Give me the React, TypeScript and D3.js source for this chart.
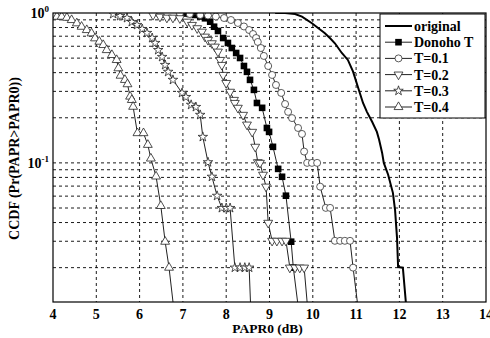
import React, { useEffect, useRef } from "react";
import * as d3 from "d3";

// [PAPR0 (dB), CCDF]
const original: [number, number][] = [
  [9.13, 1.0], [9.36, 1.0], [9.59, 0.985], [9.75, 0.945], [9.98, 0.854], [10.28, 0.732],
  [10.4, 0.678], [10.51, 0.628], [10.67, 0.541], [10.81, 0.486], [10.93, 0.406],
  [11.04, 0.322], [11.16, 0.251], [11.25, 0.219], [11.37, 0.188], [11.48, 0.161],
  [11.53, 0.143], [11.6, 0.117], [11.64, 0.1], [11.74, 0.0833], [11.85, 0.0631],
  [11.9, 0.0484], [11.945, 0.0316], [11.97, 0.0202], [12.08, 0.02], [12.17, 0.01],
];
const donohoT: [number, number][] = [
  [7.05, 0.992], [7.16, 0.985], [7.28, 0.97], [7.4, 0.948], [7.51, 0.922], [7.63, 0.875],
  [7.72, 0.81], [7.81, 0.759], [7.93, 0.681], [8.04, 0.631], [8.13, 0.584], [8.23, 0.541],
  [8.32, 0.501], [8.41, 0.443], [8.48, 0.405], [8.55, 0.358], [8.64, 0.307], [8.71, 0.251],
  [8.83, 0.233], [8.94, 0.171], [8.99, 0.161], [9.08, 0.128], [9.2, 0.0912], [9.29, 0.0808],
  [9.38, 0.0604], [9.5, 0.0298], [9.55, 0.02], [9.68, 0.01],
];
const t01: [number, number][] = [
  [6.93, 0.992], [7.16, 0.985], [7.4, 0.97], [7.58, 0.962], [7.76, 0.948], [7.95, 0.926],
  [8.11, 0.898], [8.27, 0.858], [8.41, 0.813], [8.53, 0.77], [8.62, 0.724], [8.69, 0.681],
  [8.73, 0.641], [8.8, 0.584], [8.87, 0.517], [8.97, 0.443], [9.06, 0.386], [9.15, 0.331],
  [9.27, 0.293], [9.36, 0.247], [9.43, 0.219], [9.52, 0.199], [9.66, 0.171], [9.75, 0.156],
  [9.8, 0.119], [9.87, 0.1], [9.98, 0.1], [10.1, 0.1], [10.17, 0.0694], [10.3, 0.0501],
  [10.4, 0.0501], [10.51, 0.0302], [10.63, 0.0302], [10.74, 0.0302], [10.86, 0.0302],
  [10.93, 0.02], [11.06, 0.01],
];
const t02: [number, number][] = [
  [6.31, 0.97], [6.47, 0.945], [6.63, 0.93], [6.77, 0.93], [6.93, 0.922], [7.1, 0.875],
  [7.21, 0.832], [7.33, 0.791], [7.44, 0.75], [7.51, 0.695], [7.58, 0.661], [7.67, 0.628],
  [7.74, 0.596], [7.81, 0.552], [7.86, 0.486], [7.9, 0.45], [7.93, 0.386], [8.0, 0.341],
  [8.09, 0.298], [8.18, 0.263], [8.2, 0.251], [8.27, 0.233], [8.39, 0.209], [8.48, 0.18],
  [8.6, 0.161], [8.67, 0.128], [8.73, 0.101], [8.78, 0.1], [8.85, 0.0833], [8.92, 0.0694],
  [8.97, 0.0398], [9.06, 0.0302], [9.17, 0.0302], [9.29, 0.0302], [9.38, 0.0302],
  [9.47, 0.02], [9.59, 0.02], [9.7, 0.02], [9.8, 0.02], [9.89, 0.01],
];
const t03: [number, number][] = [
  [5.39, 0.985], [5.55, 0.955], [5.71, 0.926], [5.82, 0.871], [5.94, 0.832], [6.06, 0.782],
  [6.17, 0.736], [6.29, 0.681], [6.36, 0.631], [6.43, 0.566], [6.52, 0.509], [6.59, 0.45],
  [6.66, 0.405], [6.77, 0.358], [6.98, 0.293], [7.07, 0.275], [7.19, 0.244], [7.3, 0.236],
  [7.4, 0.209], [7.46, 0.149], [7.58, 0.101], [7.67, 0.0808], [7.79, 0.0603], [7.9, 0.05],
  [8.0, 0.05], [8.09, 0.05], [8.2, 0.02], [8.32, 0.02], [8.43, 0.02], [8.53, 0.02],
  [8.57, 0.01],
];
const t04: [number, number][] = [
  [4.09, 0.945], [4.2, 0.945], [4.32, 0.93], [4.43, 0.898], [4.55, 0.854], [4.66, 0.81],
  [4.78, 0.77], [4.89, 0.732], [4.97, 0.678], [5.07, 0.644], [5.16, 0.612], [5.24, 0.566],
  [5.36, 0.525], [5.47, 0.486], [5.51, 0.428], [5.56, 0.382], [5.66, 0.358], [5.72, 0.335],
  [5.78, 0.277], [5.82, 0.263], [5.85, 0.237], [5.95, 0.158], [6.09, 0.158], [6.19, 0.132],
  [6.26, 0.107], [6.38, 0.0812], [6.49, 0.0516], [6.59, 0.0298], [6.68, 0.02], [6.8, 0.01],
];

const xTicks = [4, 5, 6, 7, 8, 9, 10, 11, 12, 13, 14];
const yGrid = [0.02, 0.03, 0.04, 0.05, 0.06, 0.07, 0.08, 0.09, 0.1, 0.2, 0.3, 0.4, 0.5, 0.6, 0.7, 0.8, 0.9];
const yTickLabels = [{ v: 1, exp: "0" }, { v: 0.1, exp: "-1" }];

const series = [
  { name: "original", data: original, marker: null as string | null },
  { name: "Donoho T", data: donohoT, marker: "square" },
  { name: "T=0.1", data: t01, marker: "circle" },
  { name: "T=0.2", data: t02, marker: "tridown" },
  { name: "T=0.3", data: t03, marker: "star" },
  { name: "T=0.4", data: t04, marker: "triup" },
];

const FONT = "Liberation Serif, Times New Roman, Tinos, serif";

const drawMarker = (g: d3.Selection<SVGGElement, unknown, null, undefined>, kind: string, x: number, y: number) => {
  if (kind === "square") {
    g.append("rect").attr("x", x - 3.3).attr("y", y - 3.3).attr("width", 6.6).attr("height", 6.6)
      .attr("fill", "#000");
    return;
  }
  if (kind === "circle") {
    g.append("circle").attr("cx", x).attr("cy", y).attr("r", 3.5)
      .attr("fill", "#fff").attr("stroke", "#333").attr("stroke-width", 0.8);
    return;
  }
  const sym = kind === "star" ? d3.symbolStar : d3.symbolTriangle;
  const size = kind === "star" ? 28 : 34;
  g.append("path")
    .attr("d", d3.symbol().type(sym).size(size)()!)
    .attr("transform", `translate(${x},${y})${kind === "tridown" ? " rotate(180)" : ""}`)
    .attr("fill", "#fff").attr("stroke", "#222").attr("stroke-width", 0.8);
};

const App: React.FC = () => {
  const svgRef = useRef<SVGSVGElement | null>(null);

  useEffect(() => {
    const svg = d3.select(svgRef.current);
    svg.selectAll("*").remove();

    const m = { top: 13, right: 4, bottom: 36, left: 53 };
    const w = 490;
    const h = 338;

    const x = d3.scaleLinear().domain([4, 14]).range([m.left, w - m.right]);
    const y = d3.scaleLog().domain([0.0118, 1]).range([h - m.bottom, m.top]);

    svg.append("defs").append("clipPath").attr("id", "plotclip")
      .append("rect").attr("x", m.left).attr("y", m.top)
      .attr("width", w - m.left - m.right).attr("height", h - m.top - m.bottom);

    svg.append("rect").attr("x", m.left).attr("y", m.top)
      .attr("width", w - m.left - m.right).attr("height", h - m.top - m.bottom).attr("fill", "#fff");

    // grid
    const grid = svg.append("g").attr("stroke", "#000").attr("stroke-width", 0.9).attr("stroke-dasharray", "3,3");
    xTicks.slice(1, -1).forEach(t => {
      grid.append("line").attr("x1", x(t)).attr("x2", x(t)).attr("y1", m.top).attr("y2", h - m.bottom);
    });
    yGrid.forEach(t => {
      grid.append("line").attr("x1", m.left).attr("x2", w - m.right).attr("y1", y(t)).attr("y2", y(t));
    });

    // curves
    const plot = svg.append("g").attr("clip-path", "url(#plotclip)");
    const line = d3.line<[number, number]>().x(d => x(d[0])).y(d => y(d[1]));
    series.forEach(s => {
      plot.append("path").datum(s.data).attr("d", line)
        .attr("fill", "none")
        .attr("stroke", s.marker ? "#222" : "#000")
        .attr("stroke-width", s.marker ? 1 : 2);
      if (s.marker) {
        const mg = plot.append("g");
        s.data.forEach(d => drawMarker(mg, s.marker!, x(d[0]), y(d[1])));
      }
    });

    // frame
    svg.append("rect").attr("x", m.left).attr("y", m.top)
      .attr("width", w - m.left - m.right).attr("height", h - m.top - m.bottom)
      .attr("fill", "none").attr("stroke", "#000").attr("stroke-width", 1.2);

    // x tick labels
    svg.append("g").selectAll("text").data(xTicks).enter().append("text")
      .attr("x", d => x(d)).attr("y", h - m.bottom + 17)
      .attr("text-anchor", "middle").style("font-family", FONT).attr("font-weight", "bold")
      .attr("font-size", 14).text(d => d);

    svg.append("text").attr("x", (m.left + w - m.right) / 2 - 2).attr("y", h - 5)
      .attr("text-anchor", "middle").style("font-family", FONT).attr("font-weight", "bold")
      .attr("font-size", 13.5).text("PAPR0 (dB)");

    // y tick labels
    yTickLabels.forEach(t => {
      const txt = svg.append("text").attr("x", m.left - 4).attr("y", y(t.v) + 5)
        .attr("text-anchor", "end").style("font-family", FONT).attr("font-weight", "bold")
        .attr("font-size", 14);
      txt.append("tspan").text("10");
      txt.append("tspan").attr("dy", -6).attr("font-size", 9).text(t.exp);
    });

    svg.append("text")
      .attr("transform", `translate(19, ${(m.top + h - m.bottom) / 2 + 1}) rotate(-90)`)
      .attr("text-anchor", "middle").style("font-family", FONT).attr("font-weight", "bold")
      .attr("font-size", 14).text("CCDF (Pr(PAPR>PAPR0))");

    // legend
    const lg = svg.append("g");
    const lx = 380;
    const ly = m.top + 1;
    lg.append("rect").attr("x", lx).attr("y", ly).attr("width", w - m.right - lx - 1).attr("height", 104)
      .attr("fill", "#fff").attr("stroke", "#000").attr("stroke-width", 1);
    series.forEach((s, i) => {
      const yy = ly + 12 + i * 16.2;
      lg.append("line").attr("x1", lx + 5).attr("x2", lx + 32).attr("y1", yy).attr("y2", yy)
        .attr("stroke", s.marker ? "#222" : "#000").attr("stroke-width", s.marker ? 1 : 2);
      if (s.marker) drawMarker(lg, s.marker, lx + 18.5, yy);
      lg.append("text").attr("x", lx + 34).attr("y", yy + 5)
        .style("font-family", FONT).attr("font-weight", "bold").attr("font-size", 14).text(s.name);
    });
  }, []);

  return (
    <svg ref={svgRef} width={490} height={338}
      style={{ position: "absolute", left: 0, top: 0, background: "#fff" }} />
  );
};

export default App;
